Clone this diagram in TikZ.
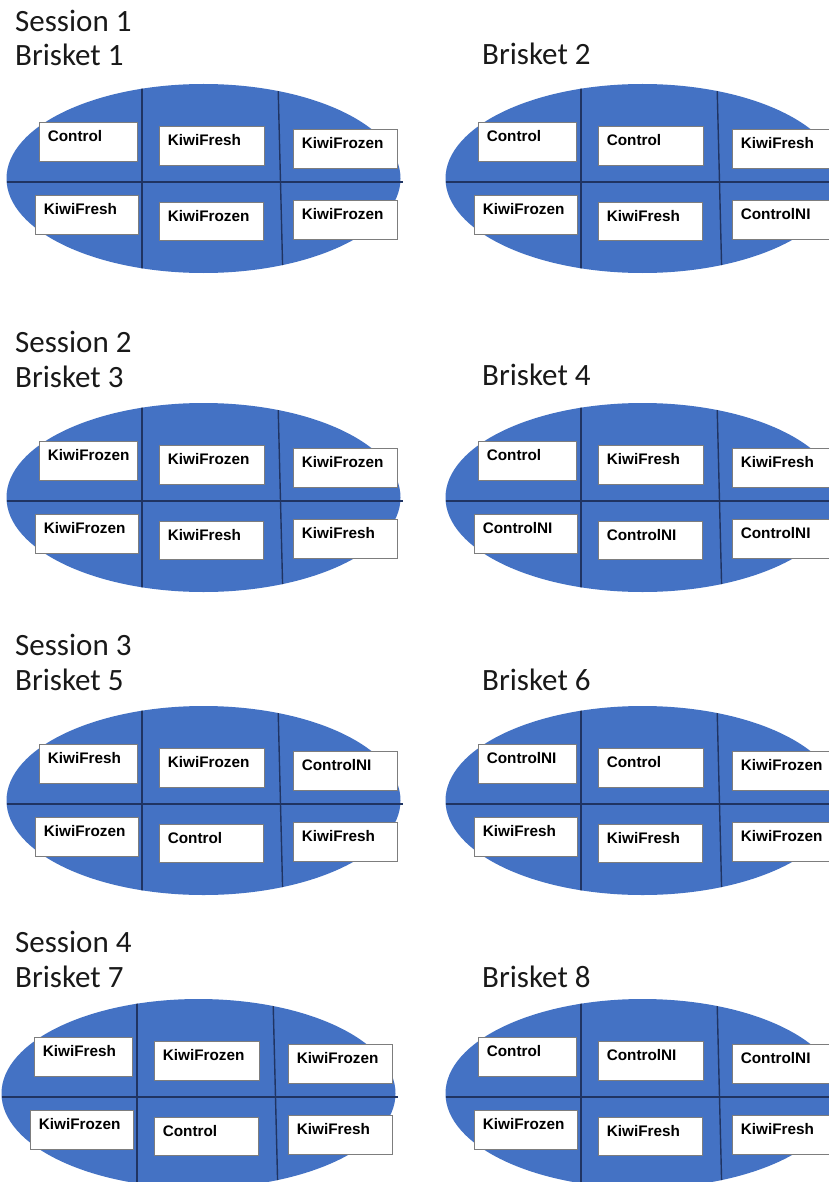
\documentclass[tikz,border=0pt]{standalone}
\usepackage{fontspec}
\newfontfamily\headfont{Carlito}
\newfontfamily\boxfont{Liberation Sans}
\definecolor{meat}{RGB}{68,114,196}
\definecolor{cutline}{RGB}{32,52,98}
\definecolor{boxedge}{RGB}{125,125,125}
\definecolor{ink}{RGB}{25,25,25}
\tikzset{
  head/.style={anchor=base west, inner sep=0pt, text=ink, font=\headfont\fontsize{31}{37}\selectfont},
  tray/.style={draw=boxedge, line width=0.8pt, fill=white, inner sep=0pt},
  tag/.style={anchor=base west, inner sep=0pt, text=black, font=\boxfont\bfseries\fontsize{15.3}{18}\selectfont},
  cut/.style={draw=cutline, line width=1.4pt},
}
\newcommand\Brisket[9]{%
  \begin{scope}[shift={(#2,#3)}]
    \fill[meat] (203.5,-3.5) ellipse [x radius=197pt, y radius=94.5pt];
    \begin{scope}
      \clip (203.5,-3.5) ellipse [x radius=197pt, y radius=94.5pt];
      \draw[cut] (142,-100) -- (142,100);
      \draw[cut] (278,-100) -- (283,100);
    \end{scope}
    \draw[cut] (6.6,0) -- (403,0);
    \node[tray, minimum width=98pt,  minimum height=39pt]   (#1a) at (88,-40.5) {};
    \node[tray, minimum width=105pt, minimum height=39pt]   (#1b) at (211.5,-36.5) {};
    \node[tray, minimum width=104pt, minimum height=39pt]   (#1c) at (345,-33.5) {};
    \node[tray, minimum width=103pt, minimum height=38.5pt] (#1d) at (86.5,32.75) {};
    \node[tray, minimum width=104pt, minimum height=38pt]   (#1e) at (211,39) {};
    \node[tray, minimum width=104pt, minimum height=39pt]   (#1f) at (345,37.5) {};
    \node[tag] (#1at) at ([shift={(9pt,-19.5pt)}]#1a.north west) {#4};
    \node[tag] (#1bt) at ([shift={(9pt,-19.5pt)}]#1b.north west) {#5};
    \node[tag] (#1ct) at ([shift={(9pt,-19.5pt)}]#1c.north west) {#6};
    \node[tag] (#1dt) at ([shift={(9pt,-19.5pt)}]#1d.north west) {#7};
    \node[tag] (#1et) at ([shift={(9pt,-19.5pt)}]#1e.north west) {#8};
    \node[tag] (#1ft) at ([shift={(9pt,-19.5pt)}]#1f.north west) {#9};
  \end{scope}}
\begin{document}
\begin{tikzpicture}[x=1pt, y=-1pt]
  \useasboundingbox (0,0) rectangle (829,1182);
  \clip (0,0) rectangle (829,1182);
  \fill[white] (0,0) rectangle (829,1182);

  % headings
  \node[head] (s1) at (15,32) {Session 1};
  \node[head] (h1) at (15,66) {Brisket 1};
  \node[head] (h2) at (482,65) {Brisket 2};
  \node[head] (s2) at (15,352) {Session 2};
  \node[head] (h3) at (15,387) {Brisket 3};
  \node[head] (h4) at (482,385) {Brisket 4};
  \node[head] (s3) at (15,655) {Session 3};
  \node[head] (h5) at (15,690) {Brisket 5};
  \node[head] (h6) at (482,690) {Brisket 6};
  \node[head] (s4) at (15,952) {Session 4};
  \node[head] (h7) at (15,987) {Brisket 7};
  \node[head] (h8) at (482,987) {Brisket 8};

  % briskets
  \Brisket{bA}{0}{182}{Control}{KiwiFresh}{KiwiFrozen}{KiwiFresh}{KiwiFrozen}{KiwiFrozen}
  \Brisket{bB}{439}{182}{Control}{Control}{KiwiFresh}{KiwiFrozen}{KiwiFresh}{ControlNI}
  \Brisket{bC}{0}{501}{KiwiFrozen}{KiwiFrozen}{KiwiFrozen}{KiwiFrozen}{KiwiFresh}{KiwiFresh}
  \Brisket{bD}{439}{501}{Control}{KiwiFresh}{KiwiFresh}{ControlNI}{ControlNI}{ControlNI}
  \Brisket{bE}{0}{804}{KiwiFresh}{KiwiFrozen}{ControlNI}{KiwiFrozen}{Control}{KiwiFresh}
  \Brisket{bF}{439}{804}{ControlNI}{Control}{KiwiFrozen}{KiwiFresh}{KiwiFresh}{KiwiFrozen}
  \Brisket{bG}{-5}{1097}{KiwiFresh}{KiwiFrozen}{KiwiFrozen}{KiwiFrozen}{Control}{KiwiFresh}
  \Brisket{bH}{439}{1097}{Control}{ControlNI}{ControlNI}{KiwiFrozen}{KiwiFresh}{KiwiFresh}
\end{tikzpicture}
\end{document}
